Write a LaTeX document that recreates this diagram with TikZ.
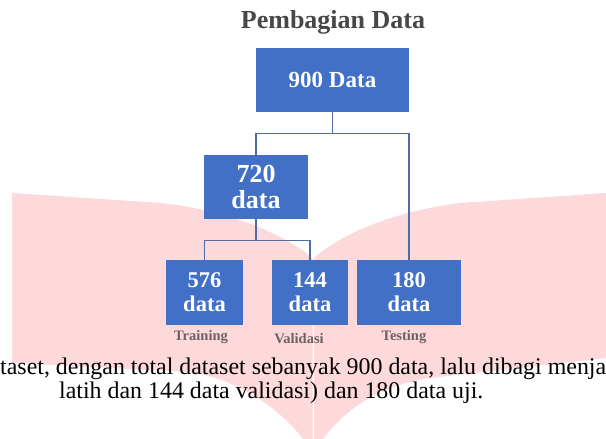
\documentclass[tikz,border=0pt]{standalone}
\usepackage{fontspec}
\setmainfont{Liberation Serif}
\usepackage{xcolor}
\usepackage{tikz}
\usetikzlibrary{positioning, calc}
\definecolor{boxblue}{RGB}{66, 112, 198}
\definecolor{linkblue}{RGB}{80, 108, 168}
\definecolor{wingpink}{RGB}{253, 217, 220}
\definecolor{titlegray}{RGB}{72, 70, 72}
\definecolor{taggray}{RGB}{108, 98, 100}

\begin{document}
\begin{tikzpicture}[x=1pt, y=-1pt,
    databox/.style={fill=boxblue, text=white, inner sep=0pt, align=center,
        font=\bfseries\fontsize{22.5}{24}\selectfont},
    tag/.style={text=taggray, inner sep=0pt, font=\bfseries\fontsize{14.5}{16}\selectfont},
    link/.style={draw=linkblue, line width=1.2pt}]
    \useasboundingbox (0,0) rectangle (606,439);

    % Background wings
    \begin{scope}
    \clip (0,0) rectangle (606,439);
    \fill[wingpink] (12,193) -- (160,203) .. controls (230,210) and (285,235) .. (312.5,258)
        -- (312.5,452) .. controls (285,410) and (240,380) .. (190,372) -- (12,363) -- cycle;
    \fill[wingpink] (606,193) -- (460,203) .. controls (390,212) and (340,235) .. (314,258)
        -- (314,452) .. controls (340,410) and (380,385) .. (430,378) -- (606,358) -- cycle;
    \end{scope}

    % Title
    \node[text=titlegray, font=\bfseries\fontsize{26}{28}\selectfont] (title) at (333,22) {Pembagian Data};

    % Boxes
    \node[databox, minimum width=153, minimum height=64, font=\bfseries\fontsize{23}{25}\selectfont] (all) at (332.5,80) {900 Data};
    \node[databox, minimum width=104, minimum height=64, font=\bfseries\fontsize{26}{26}\selectfont] (sub) at (256,187) {720\\data};
    \node[databox, minimum width=77, minimum height=65] (train) at (204.5,292.5) {576\\data};
    \node[databox, minimum width=76, minimum height=65] (val) at (310,292.5) {144\\data};
    \node[databox, minimum width=104, minimum height=65] (test) at (409,292.5) {180\\data};

    % Tags
    \node[tag] (traintag) at (201,337) {Training};
    \node[tag] (valtag) at (299,339) {Validasi};
    \node[tag] (testtag) at (404,337) {Testing};

    % Links
    \draw[link] (all.south) -- ++(0,21) coordinate (split1) -| (sub.north);
    \draw[link] (split1) -| (test.north);
    \draw[link] (sub.south) -- ++(0,21) coordinate (split2) -| (train.north);
    \draw[link] (split2) -| (val.north);

    % Caption
    \node[anchor=base west, inner sep=0pt, font=\fontsize{23.9}{26}\selectfont] (cap1) at (0,374)
        {taset, dengan total dataset sebanyak 900 data, lalu dibagi menja};
    \node[anchor=base west, inner sep=0pt, font=\fontsize{23.9}{26}\selectfont] (cap2) at (59,398)
        {latih dan 144 data validasi) dan 180 data uji.};
\end{tikzpicture}
\end{document}
